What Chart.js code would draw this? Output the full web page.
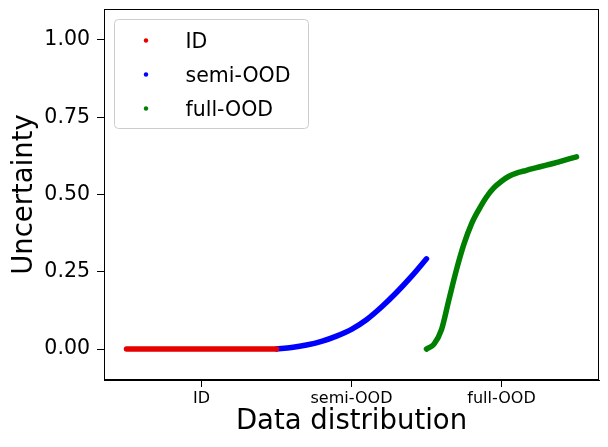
<!DOCTYPE html>
<html>
<head>
<meta charset="utf-8">
<script src="https://cdn.jsdelivr.net/npm/chart.js@4/dist/chart.umd.min.js"></script>
<style>
  html, body { margin: 0; padding: 0; background: #fff; }
  canvas { display: block; }
</style>
</head>
<body>
<canvas id="uncertaintyChart" width="608" height="447"></canvas>
<script>
const categories = ['ID', 'semi-OOD', 'full-OOD'];
const categoryTicks = [0.5, 1.5, 2.5];
const yTicks = [0, 0.25, 0.5, 0.75, 1.0];

// uncertainty read along each segment, evenly spaced samples
const idUncertainty = [0, 0, 0, 0, 0, 0, 0, 0, 0, 0, 0];
const semiUncertainty = [0.000, 0.005, 0.013, 0.025, 0.042, 0.064, 0.095, 0.136, 0.183, 0.235, 0.292];
const fullUncertainty = [0.000, 0.016, 0.063, 0.161, 0.257, 0.340, 0.405, 0.452, 0.492, 0.522, 0.543,
                         0.559, 0.569, 0.576, 0.583, 0.589, 0.595, 0.601, 0.608, 0.615, 0.622];

const FONT = "'DejaVu Sans', sans-serif";

// place samples of segment k evenly across [k, k+1]
const toPoints = (values, k) => values.map((y, i) => ({ x: k + i / (values.length - 1), y }));

const series = (label, values, k, color) => ({
  label,
  data: toPoints(values, k),
  showLine: true,
  borderColor: color,
  backgroundColor: color,
  borderWidth: 5.5,
  borderCapStyle: 'round',
  borderJoinStyle: 'round',
  cubicInterpolationMode: 'monotone',
  pointRadius: 0,
  pointHoverRadius: 0,
});

const frameAndLegend = {
  id: 'frameAndLegend',
  afterDraw(chart) {
    const { ctx, chartArea } = chart;
    ctx.save();
    ctx.strokeStyle = '#000';
    ctx.lineWidth = 1;
    ctx.strokeRect(Math.round(chartArea.left) + 0.5, Math.round(chartArea.top) + 0.5,
      Math.round(chartArea.right - chartArea.left) - 1, Math.round(chartArea.bottom - chartArea.top) - 1);

    // legend box in upper left, matplotlib style
    const bx = chartArea.left + 10.5, by = chartArea.top + 10.5;
    ctx.beginPath();
    ctx.roundRect(bx, by, 194, 109, 4);
    ctx.fillStyle = 'rgba(255,255,255,0.8)';
    ctx.fill();
    ctx.strokeStyle = '#cccccc';
    ctx.stroke();

    ctx.font = '20.5px ' + FONT;
    ctx.textAlign = 'left';
    ctx.textBaseline = 'alphabetic';
    chart.data.datasets.forEach((ds, i) => {
      const cy = by + 21 + i * 34;
      ctx.beginPath();
      ctx.arc(bx + 31.5, cy, 2.2, 0, Math.PI * 2);
      ctx.fillStyle = ds.borderColor;
      ctx.fill();
      ctx.fillStyle = '#000';
      ctx.fillText(ds.label, bx + 71, cy + 7);
    });
    ctx.restore();
  }
};

new Chart(document.getElementById('uncertaintyChart'), {
  type: 'scatter',
  data: {
    datasets: [
      series('ID', idUncertainty, 0, '#e60000'),
      series('semi-OOD', semiUncertainty, 1, '#0000ff'),
      series('full-OOD', fullUncertainty, 2, '#008000'),
    ]
  },
  options: {
    responsive: false,
    animation: false,
    events: [],
    layout: { padding: { top: 9, right: 9, left: 0, bottom: 0 } },
    plugins: {
      legend: { display: false },
      tooltip: { enabled: false },
    },
    scales: {
      x: {
        type: 'linear',
        min: -0.15,
        max: 3.15,
        afterBuildTicks: scale => { scale.ticks = categoryTicks.map(v => ({ value: v })); },
        afterFit: scale => {
          scale.height = 67;
          scale.paddingLeft = 0;
          scale.paddingRight = 0;
        },
        ticks: {
          callback: (v) => categories[categoryTicks.indexOf(v)] ?? '',
          color: '#000',
          font: { family: FONT, size: 16 },
          padding: 2,
          maxRotation: 0,
        },
        grid: { drawOnChartArea: false, drawTicks: true, tickLength: 7, color: '#000' },
        border: { display: true, color: '#000', width: 1 },
        title: {
          display: true,
          text: 'Data distribution',
          color: '#000',
          font: { family: FONT, size: 27.5 },
          padding: { top: 0, bottom: 8.5 },
        },
      },
      y: {
        min: -0.1,
        max: 1.1,
        afterBuildTicks: scale => { scale.ticks = yTicks.map(v => ({ value: v })); },
        afterFit: scale => {
          scale.width = 104;
          scale.paddingTop = 0;
          scale.paddingBottom = 0;
        },
        ticks: {
          callback: v => Number(v).toFixed(2),
          color: '#000',
          font: { family: FONT, size: 20.5 },
          padding: 7,
        },
        grid: { drawOnChartArea: false, drawTicks: true, tickLength: 7, color: '#000' },
        border: { display: true, color: '#000', width: 1 },
        title: {
          display: true,
          text: 'Uncertainty',
          color: '#000',
          font: { family: FONT, size: 27.5 },
          padding: { top: 8, bottom: 0 },
        },
      }
    }
  },
  plugins: [frameAndLegend]
});
</script>
</body>
</html>
